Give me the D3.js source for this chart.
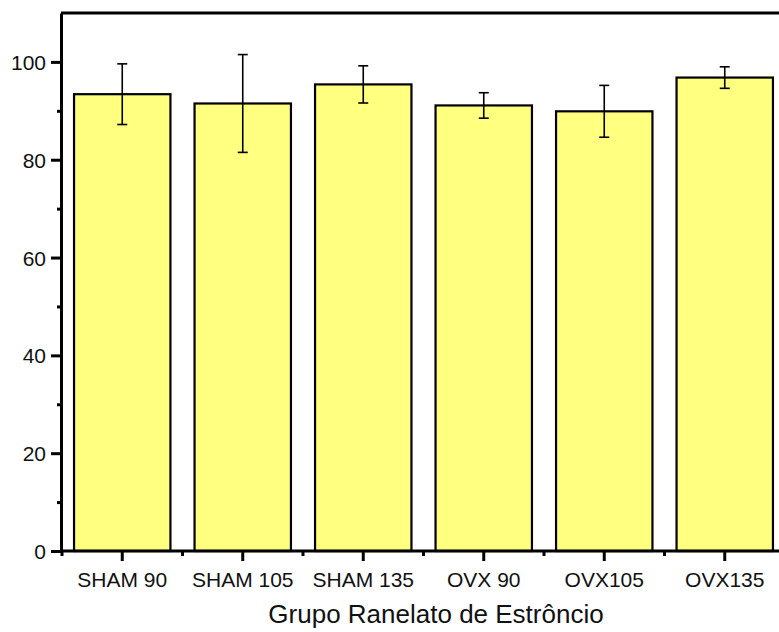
<!DOCTYPE html>
<html>
<head>
<meta charset="utf-8">
<script src="https://cdn.jsdelivr.net/npm/d3@7"></script>
<style>
    body { margin: 0; background: #fff; }
    text { font-family: "Liberation Sans", Arial, sans-serif; fill: #111; }
</style>
</head>
<body>
<div id="bar_chart"></div>
<script>
// data
let groups = ['SHAM 90', 'SHAM 105', 'SHAM 135', 'OVX 90', 'OVX105', 'OVX135'];
let means  = [93.4, 91.5, 95.4, 91.1, 89.9, 96.8];
let errors = [6.2, 10.0, 3.8, 2.6, 5.3, 2.2];
let yTicks = [0, 20, 40, 60, 80, 100];
let yMinorTicks = [10, 30, 50, 70, 90];
let xTitle = 'Grupo Ranelato de Estrôncio';

// configuration of svg/plot area
let config = {
    svg: {height: 632, width: 779},
    margin: {top: 13, right: -6, bottom: 81, left: 61},
    plot: {}
};
config.plot = {
    x: config.margin.left,
    y: config.margin.top,
    width: config.svg.width - config.margin.left - config.margin.right,
    height: config.svg.height - config.margin.top - config.margin.bottom
};

let data = groups.map((g, i) => ({group: g, mean: means[i], err: errors[i]}));

let svg = d3.select('#bar_chart')
    .append('svg')
        .attr('width', config.svg.width)
        .attr('height', config.svg.height);

let plot = svg.append('g')
        .attr('transform', 'translate(' + config.plot.x + ',' + config.plot.y + ')');

let x = d3.scaleBand()
    .domain(groups)
    .range([1, config.plot.width])
    .paddingInner(0.2)
    .paddingOuter(0.1);

let y = d3.scaleLinear()
    .domain([0, 110])
    .range([config.plot.height, 0]);

// bars
plot.append('g')
    .selectAll('rect')
    .data(data)
    .join('rect')
        .attr('x', d => x(d.group))
        .attr('y', d => y(d.mean))
        .attr('width', x.bandwidth())
        .attr('height', d => y(0) - y(d.mean))
        .attr('fill', '#ffff80')
        .attr('stroke', '#000')
        .attr('stroke-width', 2.2);

// error bars
let eb = plot.append('g')
    .selectAll('g')
    .data(data)
    .join('g')
        .attr('transform', d => `translate(${x(d.group) + x.bandwidth() / 2},0)`)
        .attr('stroke', '#000')
        .attr('stroke-width', 1.6);
eb.append('line')
    .attr('y1', d => y(d.mean + d.err))
    .attr('y2', d => y(d.mean - d.err));
eb.append('line')
    .attr('x1', -5).attr('x2', 5)
    .attr('y1', d => y(d.mean + d.err))
    .attr('y2', d => y(d.mean + d.err));
eb.append('line')
    .attr('x1', -5).attr('x2', 5)
    .attr('y1', d => y(d.mean - d.err))
    .attr('y2', d => y(d.mean - d.err));

// top frame line
plot.append('line')
    .attr('x1', 0).attr('x2', config.plot.width)
    .attr('y1', 0).attr('y2', 0)
    .attr('stroke', '#000')
    .attr('stroke-width', 3);

// y axis, minor then major
plot.append('g')
    .call(d3.axisLeft(y).tickValues(yMinorTicks).tickSize(4).tickFormat(''))
    .call(g => g.select('.domain').remove())
    .call(g => g.selectAll('line').attr('stroke-width', 3));

plot.append('g')
    .call(d3.axisLeft(y).tickValues(yTicks).tickSize(10).tickSizeOuter(0).tickPadding(5))
    .call(g => g.select('.domain').attr('stroke-width', 3))
    .call(g => g.selectAll('line').attr('stroke-width', 3))
    .call(g => g.selectAll('text')
        .attr('font-size', 21)
        .attr('dy', '0.36em'));

// x axis: minor ticks at group boundaries, major ticks at centres
let gap = (x.step() - x.bandwidth()) / 2;
let bounds = groups.map(g => x(g) - gap);

plot.append('g')
    .attr('transform', `translate(0,${config.plot.height})`)
    .selectAll('line')
    .data(bounds)
    .join('line')
        .attr('x1', d => d).attr('x2', d => d)
        .attr('y1', 0).attr('y2', 5)
        .attr('stroke', '#000')
        .attr('stroke-width', 3);

plot.append('g')
    .attr('transform', `translate(0,${config.plot.height})`)
    .call(d3.axisBottom(x).tickSize(10).tickSizeOuter(0))
    .call(g => g.select('.domain')
        .attr('d', `M0,0H${config.plot.width + 10}`)
        .attr('stroke-width', 3))
    .call(g => g.selectAll('line').attr('stroke-width', 3))
    .call(g => g.selectAll('text')
        .attr('font-size', 21)
        .attr('y', 36)
        .attr('dy', 0));

// axis title
svg.append('text')
    .attr('x', 436)
    .attr('y', 623)
    .attr('text-anchor', 'middle')
    .attr('font-size', 26)
    .text(xTitle);
</script>
</body>
</html>
